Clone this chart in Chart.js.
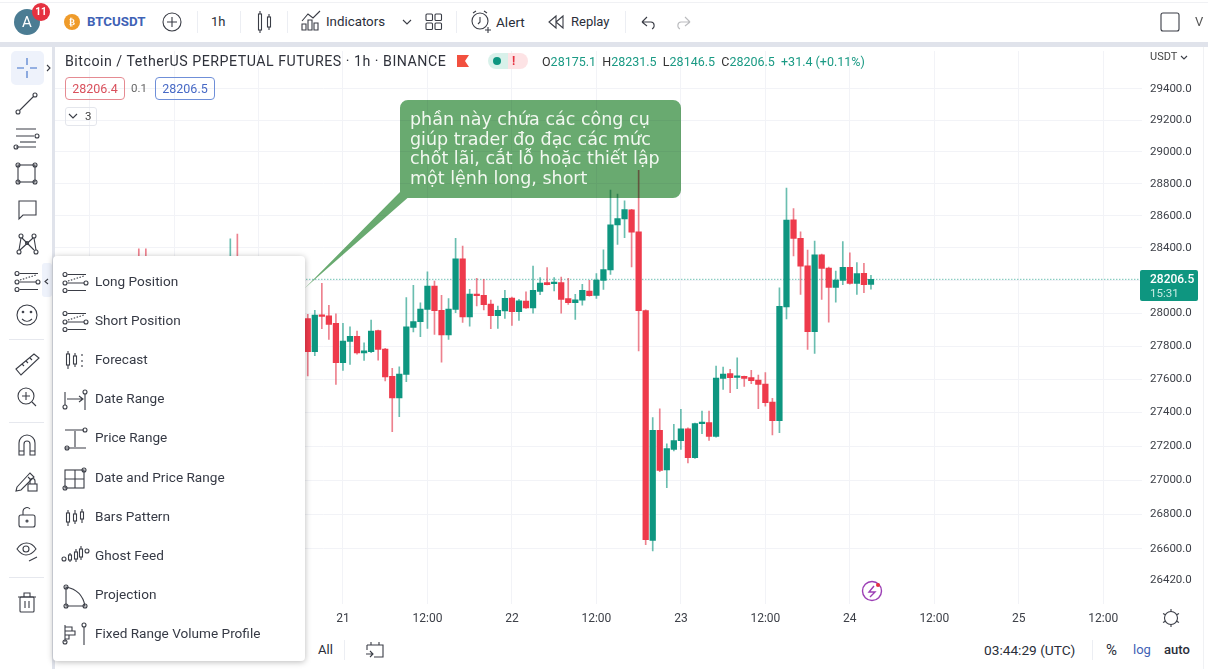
<!DOCTYPE html>
<html><head><meta charset="utf-8">
<script src="https://cdn.jsdelivr.net/npm/chart.js@4/dist/chart.umd.min.js"></script>
<style>
html,body{margin:0;padding:0;background:#fff;width:1208px;height:669px;overflow:hidden;font-family:Roboto,sans-serif;color:#2a2e39}
canvas{position:absolute;left:0;top:0}
.a{position:absolute;white-space:nowrap}
svg{position:absolute;left:0;top:0;overflow:visible}
svg .i{fill:none;stroke:#3a3d46;stroke-width:1.1}
</style></head><body>
<canvas id="c" width="1208" height="669"></canvas>
<div id="ui"></div>
<script>
const candleSlots=[12,13,25,26,36,37,38,39,40,41,42,43,44,45,46,47,48,49,50,51,52,53,54,55,56,57,58,59,60,61,62,63,64,65,66,67,68,69,70,71,72,73,74,75,76,77,78,79,80,81,82,83,84,85,86,87,88,89,90,91,92,93,94,95,96,97,98,99,100,101,102,103,104,105,106,107,108,109,110,111,112,113,114,115,116];
const opens=[28200,28100,28000,28150,27966,27766,27990,27984,27937,27699,27828,27858,27759,27766,27893,27782,27617,27487,27629,27913,27947,28023,28165,28017,27867,28023,28333,27976,28116,28108,28055,27984,28013,28092,28008,28073,28031,28133,28186,28180,28186,28088,28063,28079,28135,28108,28200,28264,28543,28580,28636,28499,28015,26648,27294,27060,27182,27233,27304,27133,27334,27340,27259,27605,27633,27611,27617,27609,27595,27571,27463,27352,28037,28574,28460,28290,27887,28358,28276,28157,28200,28280,28182,28243,28175.1];
const highs=[28394,28394,28456,28486,27992,28017,28182,28047,27996,27937,27917,27891,27820,27958,27897,27786,27665,27675,28094,28169,28063,28253,28196,28108,28088,28460,28412,28145,28212,28206,28079,28043,28139,28098,28084,28130,28288,28217,28278,28217,28221,28212,28114,28175,28200,28241,28388,28759,28734,28692,28640,28884,28020,27370,27423,27215,27330,27419,27310,27338,27409,27409,27679,27673,27659,27729,27619,27653,27625,27639,27485,28155,28772,28644,28499,28386,28443,28362,28282,28257,28439,28369,28309,28305,28231.5];
const lows=[28000,27950,27900,28000,27619,27741,27905,27840,27569,27653,27689,27750,27713,27760,27715,27589,27286,27376,27585,27885,27856,27907,27871,27703,27840,28002,27943,27921,28043,28019,27905,27907,27968,27925,27956,28029,28000,28112,28172,28135,28000,28053,27962,28049,28104,28090,28145,28237,28422,28464,28282,27770,26623,26588,27050,26956,27172,27182,27101,27128,27275,27235,27254,27539,27519,27543,27557,27573,27423,27439,27267,27280,27964,28350,28114,27780,27755,28084,27945,28067,28174,28176,28114,28124,28146.5];
const closes=[28100,28000,28150,28050,27766,27988,27980,27931,27699,27830,27858,27759,27771,27891,27780,27613,27487,27631,27917,27949,28025,28165,28015,27867,28025,28333,27976,28116,28106,28051,27984,28017,28090,28008,28075,28031,28139,28184,28174,28186,28084,28063,28081,28139,28106,28202,28266,28543,28582,28638,28497,28015,26652,27294,27058,27186,27233,27304,27133,27334,27340,27259,27607,27631,27609,27619,27605,27591,27569,27459,27352,28041,28572,28458,28288,27887,28358,28274,28157,28202,28280,28182,28241,28174,28206.5];
const slotCount=155;
const timeTickSlots=[5,17,29,41,53,65,77,89,101,113,125,137,149];
const timeTickLabels=['12:00','20','12:00','21','12:00','22','12:00','23','12:00','24','12:00','25','12:00'];
const priceTicks=[29400,29200,29000,28800,28600,28400,28200,28000,27800,27600,27400,27200,27000,26800,26600,26420];
const hiddenPriceLabels=[28200];
const noGridPrices=[26420];
const priceMin=26282, priceMax=29663;
const lastPrice=28206.5;
const menuItems=['Long Position','Short Position','Forecast','Date Range','Price Range','Date and Price Range','Bars Pattern','Ghost Feed','Projection','Fixed Range Volume Profile'];
const menuRows=[282,321,360,399,438,478,517,556,595,634];

const UP='#0e9680', DOWN='#ee3a4b', UPW='rgba(14,150,128,.62)', DOWNW='rgba(226,52,72,.62)';
const labels=Array.from({length:slotCount},(_,i)=>{const k=timeTickSlots.indexOf(i);return k<0?'':timeTickLabels[k]});
const wicks=Array(slotCount).fill(null), bodies=Array(slotCount).fill(null),
      bodyColors=Array(slotCount).fill(UP), wickColors=Array(slotCount).fill(UPW);
candleSlots.forEach((s,k)=>{
  wicks[s]=[lows[k],highs[k]];
  bodies[s]=[opens[k],closes[k]];
  const up=closes[k]>=opens[k];
  bodyColors[s]=up?UP:DOWN; wickColors[s]=up?UPW:DOWNW;
});
new Chart(document.getElementById('c'),{
  type:'bar',
  data:{labels,datasets:[
    {type:'line',label:'Last',data:labels.map(()=>lastPrice),borderColor:'rgba(14,150,128,.85)',borderWidth:1,borderDash:[1,2],pointRadius:0,order:3},
    {label:'Wick',data:wicks,backgroundColor:wickColors,barThickness:1,grouped:false,order:2},
    {label:'Body',data:bodies,backgroundColor:bodyColors,barThickness:5.6,minBarLength:1.6,grouped:false,order:1}
  ]},
  options:{
    responsive:false,animation:false,devicePixelRatio:1,
    layout:{padding:{left:50.8,top:48,right:0,bottom:0}},
    plugins:{legend:{display:false},tooltip:{enabled:false}},
    scales:{
      x:{type:'category',offset:true,
        grid:{offset:false,color:'#f2f3f7',drawTicks:false,drawBorder:false},border:{display:false},
        afterBuildTicks:s=>{s.ticks=s.ticks.filter(t=>timeTickSlots.includes(t.value))},
        afterFit:s=>{s.height=65},
        ticks:{autoSkip:false,maxRotation:0,padding:8,color:'#3d4048',font:{family:'Roboto',size:12}}},
      y:{type:'logarithmic',position:'right',min:priceMin,max:priceMax,bounds:'data',
        grid:{color:c=>noGridPrices.includes(c.tick&&c.tick.value)?'rgba(0,0,0,0)':'#f2f3f7',drawTicks:false},border:{display:false},
        afterBuildTicks:s=>{s.ticks=priceTicks.map(value=>({value}))},
        afterFit:s=>{s.width=66},
        ticks:{autoSkip:false,padding:8,color:'#3d4048',font:{family:'Roboto',size:11.5},callback:v=>hiddenPriceLabels.includes(v)?'':Number(v).toFixed(1)}}
    }
  }
});

const ui=document.getElementById('ui');
function box(x,y,w,h,css,html){const d=document.createElement('div');d.className='a';d.style.cssText=`left:${x}px;top:${y}px;width:${w}px;height:${h}px;`+(css||'');if(html)d.innerHTML=html;ui.appendChild(d);return d}
function txt(s,x,cy,css){const d=document.createElement('div');d.className='a';d.style.cssText=`left:${x}px;top:${cy-10}px;height:20px;line-height:20px;`+(css||'');d.innerHTML=s;ui.appendChild(d);return d}

// callout under all other chrome
box(0,0,1208,669,'mix-blend-mode:multiply;pointer-events:none',
 '<svg width="1208" height="669"><path d="M408 100H673a8 8 0 0 1 8 8V190a8 8 0 0 1-8 8H407.5L305 288L400 192V108a8 8 0 0 1 8-8Z" fill="#69aa70"/></svg>');
txt('phần này chứa các công cụ<br>giúp trader đo đạc các mức<br>chốt lãi, cắt lỗ hoặc thiết lập<br>một lệnh long, short',410,110,'height:auto;top:110px;color:#f2f8f0;font:17.5px/19.7px "DejaVu Sans";');

// chrome bands
box(0,0,1208,42,'background:#fff');
box(0,2,1208,1,'background:#f0f1f4');
box(0,42,1208,5,'background:#e0e3eb');
box(0,47,52,622,'background:#fff');
box(52,47,3,622,'background:#e0e3eb');
box(1203,47,5,622,'background:#fff');
box(1203,47,1,622,'background:#f0f1f4');
box(55,47,1090,4,'background:#fff');
box(55,630,1148,39,'background:#fff');
box(11,51,33,34,'background:#eef2fb;border-radius:5px');
box(42,263,10,34,'background:#eef2fb;border-radius:3px');

// top bar
box(14,9,26,26,'background:#4b7c93;border-radius:50%;color:#fff;text-align:center;font:15px/27px Roboto','A');
box(32,3,18,18,'background:#e53240;border-radius:50%;color:#fff;text-align:center;font:bold 10px/18px Roboto','11');
box(64,14,16,16,'background:#ef9b2a;border-radius:50%;color:#fff;text-align:center;font:bold 9px/16px Roboto','₿');
txt('BTCUSDT',87,22,'font-weight:700;font-size:13.3px;color:#3f62b5');
txt('1h',211,22,'font-size:13px');
txt('Indicators',326,22,'font-size:13.3px');
txt('Alert',496,22,'font-size:13.6px');
txt('Replay',571,22,'font-size:13px');
txt('V',1195,22,'font-size:13px;color:#555');
[197,240,287,456,625].forEach(x=>box(x,11,1,22,'background:#eceef3'));

// legend
txt('Bitcoin / TetherUS PERPETUAL FUTURES · 1h · BINANCE',65,61,'font-size:14.2px;letter-spacing:.51px;color:#2f323b');
box(488,53,40,16,'background:linear-gradient(90deg,#d8f1ea 50%,#fde3e5 50%);border-radius:8px');
box(493,57,8,8,'background:#0e9680;border-radius:50%');
txt('!',512,61,'font-size:12px;font-weight:700;color:#e53240');
const v=s=>`<span style="color:#1a9a84">${s}</span>`;
txt(`O${v('28175.1')}&nbsp; H${v('28231.5')}&nbsp; L${v('28146.5')}&nbsp; C${v('28206.5')}&nbsp; ${v('+31.4 (+0.11%)')}`,542,62,'font-size:12.5px;color:#333');
box(65,77,58,21,'border:1px solid #e58b92;border-radius:4px;color:#d9505c;text-align:center;font:12.5px/21px Roboto','28206.4');
txt('0.1',131,88,'font-size:11.5px;color:#666');
box(155,77,58,21,'border:1px solid #6f8fd8;border-radius:4px;color:#4769c5;text-align:center;font:12.5px/21px Roboto','28206.5');
box(65,107,30,17,'border:1px solid #e4e6ec;border-radius:3px;');
txt('3',85,116,'font-size:11.5px;color:#444');
txt('USDT',1150,57,'font-size:11px;color:#444');
box(1140,270,58,31,'background:#0e9680;border-radius:2px');
txt('28206.5',1150,279,'font-size:12px;color:#fff;font-weight:500');
txt('15:31',1150,293,'font-size:11.5px;color:#c8ebe3');

// bottom bar
txt('All',318,650,'font-size:13px');
box(344,640,1,20,'background:#eceef3');
txt('03:44:29 (UTC)',984,650,'font-size:13.7px');
box(1092,640,1,20,'background:#eceef3');
txt('%',1106,650,'font-size:15px');
txt('log',1133,650,'font-size:13px;color:#3f62b5');
txt('auto',1164,650,'font-size:13px;font-weight:500');

// left toolbar separators
[339,422,577].forEach(y=>box(9,y,35,1,'background:#e6e8ee'));

// menu
box(53,256,252,405,'background:#fff;border-radius:4px;box-shadow:0 1px 6px rgba(0,0,0,.28)');
menuItems.forEach((m,k)=>txt(m,95,menuRows[k]-1,'font-size:13.6px;color:#363a45'));

// icons
const c=(x,y,r=2)=>`<circle cx="${x}" cy="${y}" r="${r}"/>`, p=d=>`<path d="${d}"/>`;
const positionIcon=(x,y)=>`<g transform="translate(${x},${y})">${c(2,-7.5)}${p('M4.5-7.5H23M4.5 8.5H23M4.5 1H21')}${c(2,1)}${c(23,1)}${c(2,8.5)}<path d="M5-1L21-6" stroke-dasharray="1.5 1.5"/></g>`;
const candle=(x,t,b,w1,w2)=>p(`M${x} ${w1}V${t}M${x} ${b}V${w2}`)+`<rect x="${x-1.5}" y="${t}" width="3" height="${b-t}"/>`;
let icons='';
// top bar icons
icons+=c(172,22,9)+p('M167 22H177M172 17V27');
icons+=candle(260,14,30,11,33)+candle(269,17,27,14,30);
icons+=p('M302 30V24H306V30ZM308 30V20H312V30ZM314 30V23H318V30ZM302 21L308 14L313 18L320 11');
icons+=`<rect x="426" y="14" width="6.5" height="6.5" rx="1"/><rect x="435" y="14" width="6.5" height="6.5" rx="1"/><rect x="426" y="23" width="6.5" height="6.5" rx="1"/><rect x="435" y="23" width="6.5" height="6.5" rx="1"/>`;
icons+=c(480,21,8)+p('M480 17V22L478 24M473 13L476 11M487 13L484 11M485 30H491M488 27V33');
icons+=p('M556 16L549 22L556 28ZM563 16L556 22L563 28Z');
icons+=p('M642 22L647 17M642 22L647 26M642 22H651C655 22 655 28 652 29');
icons+=`<g opacity=".35">${p('M690 22L685 17M690 22L685 26M690 22H681C677 22 677 28 680 29')}</g>`;
icons+=`<rect x="1161" y="13" width="18" height="18" rx="2"/>`;
icons+=p('M403 20L407 24L411 20');
// left toolbar
icons+=`<g style="stroke:#3d6ec9">${p('M27 58V65M27 71V78M17 68H24M30 68H37')}</g>`+p('M47 65L50 68L47 71');
icons+=c(18,112)+c(35,95)+p('M19.5 110.5L33.5 96.5');
icons+=p('M16 129H36M16 136H34M16 147H36')+c(37,136)+c(16,147)+p('M20 142H36');
icons+=`<rect x="18" y="165" width="17" height="17"/>`+c(18,165)+c(35,165)+c(18,182)+c(35,182);
icons+=p('M19 201H36V215H23L19 219Z');
icons+=c(21,236)+c(34,236)+c(19,252)+c(36,252)+c(27,243,1.5)+p('M21 238L19 250M34 238L36 250M22 238L34 250M33 238L20 250');
icons+=`<g transform="translate(4,281)">${positionIcon(11,0)}</g>`+p('M48 279L45 281.5L48 284');
icons+=c(27,315,10)+c(23,312,.8)+c(31,312,.8)+p('M22 319C25 322 29 322 32 319');
icons+=p('M16 369L34 354L39 358L21 375ZM22 364L24 366M26 361L28 363M30 358L32 360');
icons+=c(26,396,8)+p('M22 396H30M26 392V400M32 402L36 406');
icons+=p('M19 455V443A8 8 0 0 1 35 443V455H30V444A3 3 0 0 0 24 444V455ZM19 451H24M30 451H35');
icons+=p('M17 487L30 473L34 477L21 490L16 491ZM28 477L31 480')+`<rect x="28" y="484" width="9" height="7"/>`+p('M30 484V481A2.5 2.5 0 0 1 35 481V484');
icons+=`<rect x="19" y="515" width="16" height="12" rx="2"/>`+p('M23 515V511A4 4 0 0 1 30 509')+c(27,521,1);
icons+=c(26,549,3)+p('M17 549C22 541 31 541 36 549C33 553 30 555 26 555C22 555 20 553 17 549ZM29 561L37 557');
icons+=`<rect x="20" y="597" width="14" height="15" rx="1"/>`+p('M18 597H36M24 597V593H30V597M25 601V608M29 601V608');
// menu icons
icons+=positionIcon(63,282)+positionIcon(63,321);
icons+=candle(68,354,365,351,369)+candle(75,356,364,353,367)+p('M82 354V356M82 360V362M82 365V367');
icons+=c(65,407)+p('M65 392V405M67 399H82M79 396L83 399L79 402')+c(85,392)+p('M85 394V410');
icons+=p('M65 430H84M75 431V447M65 448H86')+c(67,448)+c(85,430);
icons+=`<rect x="65" y="470" width="19" height="18"/>`+p('M65 479H84M75 470V488')+c(65,488)+c(84,470);
icons+=candle(68,513,522,510,526)+candle(75,514,521,510,524)+candle(82,512,519,509,523);
icons+=c(64,559)+candle(70,555,560,553,562)+candle(76,552,559,549,562)+candle(81,549,557,546,560)+c(87,551);
icons+=p('M66 587C77 589 83 595 85 606H66Z')+c(66,587)+c(66,606)+c(85,606);
icons+=p('M65 625V642')+`<path d="M65 627H72V631H65M65 631H75V635H65M65 635H69V639H65" />`+c(65,642)+c(84,625)+p('M84 627V645');
// other
icons+=`<g transform="translate(1171,618)">${c(0,0,6.5)}${p('M0 -9V-6.5M0 9V6.5M-8 -4.5L-5.6 -3.2M8 4.5L5.6 3.2M-8 4.5L-5.6 3.2M8 -4.5L5.6 -3.2')}</g>`;
icons+=p('M367 645H383V657H374M367 645V650M371 642V645M379 642V645M366 654H373M370 651L373 654L370 657');
icons+=`<g style="stroke:#9c3fb5;stroke-width:1.4">${c(872,591,9.5)}${p('M874 586L869 592H875L870 597')}</g><circle cx="878" cy="585" r="2" style="fill:#e53240;stroke:none"/>`;
icons+=`<path d="M457 55H469L465 61L469 67H457Z" style="fill:#f2503f;stroke:none"/>`;
icons+=p('M69 114L73 118L77 114');
icons+=p('M1181 56L1184 59L1187 56');
box(0,0,1208,669,'pointer-events:none','<svg width="1208" height="669"><g class="i">'+icons+'</g></svg>');
</script>
</body></html>
